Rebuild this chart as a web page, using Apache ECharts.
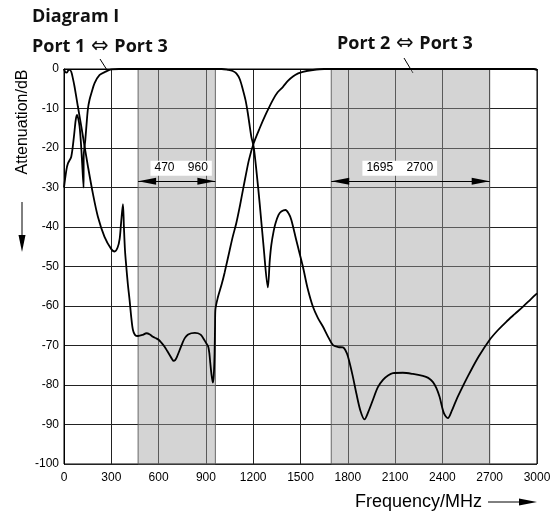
<!DOCTYPE html>
<html><head><meta charset="utf-8">
<script src="https://cdn.jsdelivr.net/npm/echarts@6/dist/echarts.min.js"></script>
<style>html,body{margin:0;padding:0;background:#fff}#c{width:555px;height:518px}</style>
</head><body><div id="c"></div>
<script>
// ---- data ----
const diagramTitle = 'Diagram I';
const seriesNames = ['Port 1 \u21D4 Port 3', 'Port 2 \u21D4 Port 3'];
const xTitle = 'Frequency/MHz';
const yTitle = 'Attenuation/dB';
const xRange = [0, 3000, 300];
const yRange = [-100, 0, 10];
const bands = [[470, 960], [1695, 2700]];
const bandArrowLevel = -28.4;

const port13 = [
  [0,-30],[15,-25.6],[25,-23.9],[46,-22.2],[63,-17.1],[74,-13],[82,-11.6],[90,-12.5],[99,-14.6],[107,-18.5],[114,-23],[124,-30],
  [125,-22],[135,-18],[145,-13],[152,-10],[162,-7.8],[173,-6.2],[194,-3.6],[226,-1.5],[268,-0.6],[300,-0.1],[350,0],
  [1000,0],[1038,-0.2],[1070,-0.5],[1093,-1.1],[1115,-2.6],[1135,-5.3],[1152,-8],[1166,-11.2],[1188,-17.1],[1203,-19.7],
  [1220,-25.6],[1241,-34],[1266,-45],[1293,-55.3],[1305,-48.5],[1315,-44.5],[1330,-41],[1342,-39],[1360,-37],[1378,-36.1],
  [1405,-35.7],[1425,-36.6],[1442,-38.2],[1473,-43.3],[1515,-50],[1545,-55.5],[1579,-60.2],[1610,-63],[1642,-65.2],[1675,-67.8],
  [1706,-69.9],[1740,-70.4],[1769,-70.5],[1785,-71.2],[1801,-72.8],[1830,-77.5],[1854,-82.1],[1880,-86.5],[1906,-88.7],
  [1930,-86.8],[1959,-83.8],[1990,-80.6],[2023,-78.7],[2055,-77.6],[2086,-77],[2149,-76.9],[2213,-77.2],[2276,-77.7],
  [2310,-78.2],[2339,-79.2],[2362,-80.8],[2382,-83],[2410,-87.2],[2435,-88.4],[2460,-86.5],[2488,-83.8],[2530,-80.3],
  [2572,-77],[2630,-72.8],[2699,-68.6],[2750,-66.2],[2805,-64],[2860,-62],[2910,-60.2],[2960,-58.3],[3000,-56.8]
];
const port23 = [
  [0,0],[8,-0.8],[18,-0.9],[28,-0.3],[36,-0.2],[46,-0.7],[56,-2.3],[67,-4.5],[88,-9.5],[110,-14.6],[131,-19.7],[152,-24.7],
  [183,-31.5],[215,-37.4],[257,-42.5],[300,-45.6],[321,-46.2],[340,-45.2],[353,-43],[362,-39],[374,-34.2],[380,-40],
  [387,-46],[395,-50],[405,-54.5],[416,-58.5],[427,-63],[437,-66],[450,-67.3],[469,-67.6],[500,-67.3],[522,-66.9],
  [545,-67.2],[564,-67.8],[585,-68.2],[602,-68.6],[620,-69.4],[638,-70.3],[655,-71.4],[670,-72.4],[685,-73.4],[695,-73.9],
  [705,-73.7],[715,-73],[733,-71.2],[750,-69.5],[765,-68.2],[785,-67.3],[807,-66.9],[830,-66.8],[849,-66.9],[870,-67.4],
  [890,-68.6],[905,-69.6],[915,-70.3],[922,-72],[928,-74.5],[936,-77.5],[944,-79.4],[950,-77.5],[955,-72],[958,-65],
  [960,-61],[976,-57.8],[1000,-54.5],[1019,-51.5],[1050,-46],[1070,-42.5],[1093,-39],[1115,-34.8],[1135,-30.6],[1155,-26.5],
  [1173,-23],[1203,-18.8],[1241,-15],[1283,-11.2],[1325,-7.8],[1355,-5.9],[1389,-4.5],[1420,-3],[1452,-1.9],[1485,-1.1],
  [1515,-0.7],[1579,-0.25],[1650,0],[2980,0],[3000,-0.3]
];

// ---- chart ----
const chart = echarts.init(document.getElementById('c'), null, {renderer: 'canvas'});
const axisFont = {fontFamily: 'Liberation Sans, Arial, sans-serif', fontSize: 12, color: '#000'};
const gridCol = '#222';

const leftArrow = 'path://M0,5 L18,0 L18,10 Z';
const rightArrow = 'path://M18,5 L0,0 L0,10 Z';

function bandMarks() {
  const pts = [], lines = [];
  bands.forEach((b, i) => {
    lines.push([{coord: [b[0], bandArrowLevel]}, {coord: [b[1], bandArrowLevel]}]);
    pts.push({coord: [b[0], bandArrowLevel], symbol: leftArrow, symbolSize: [18, 7], symbolOffset: [9, 0], label: {show: false}});
    pts.push({coord: [b[1], bandArrowLevel], symbol: rightArrow, symbolSize: [18, 7], symbolOffset: [-9, 0], label: {show: false}});
    const cx = i === 0 ? (b[0] + b[1]) / 2 + 28 : (b[0] + b[1]) / 2 - 68;
    pts.push({coord: [cx, -25.1], symbol: 'rect', symbolSize: 0,
      label: {show: true, position: 'inside', formatter: b[0] + '    ' + b[1], color: '#000',
        fontFamily: 'Liberation Sans, Arial, sans-serif', fontSize: 12, backgroundColor: '#fff', padding: [2, 4, 1, 4]}});
  });
  return {pts, lines};
}
const bm = bandMarks();

const titleRich = {
  t: {fontFamily: '"Open Sans", Lato, sans-serif', fontWeight: 'bold', fontSize: 18, fill: '#111', color: '#111'},
  a: {fontFamily: '"DejaVu Sans", sans-serif', fontSize: 21, fill: '#111', color: '#111', padding: [0, 1, 0, 1]}
};
function richTitle(s) {
  const parts = s.split('\u21D4');
  return '{t|' + parts[0] + '}{a|\u21D4}{t|' + parts[1] + '}';
}

chart.setOption({
  animation: false,
  backgroundColor: '#fff',
  grid: {left: 64, right: 18, top: 69, bottom: 54, show: true, borderColor: '#000', borderWidth: 1, backgroundColor: 'transparent'},
  xAxis: {
    type: 'value', min: xRange[0], max: xRange[1], interval: xRange[2],
    axisLine: {show: true, lineStyle: {color: '#000', width: 1}},
    axisTick: {show: false},
    axisLabel: Object.assign({margin: 8, formatter: v => String(v)}, axisFont),
    splitLine: {show: true, lineStyle: {color: gridCol, width: 1}}
  },
  yAxis: {
    type: 'value', min: yRange[0], max: yRange[1], interval: yRange[2],
    axisLine: {show: true, lineStyle: {color: '#000', width: 1}},
    axisTick: {show: false},
    axisLabel: Object.assign({margin: 5, formatter: v => String(v)}, axisFont),
    splitLine: {show: true, lineStyle: {color: gridCol, width: 1}}
  },
  series: [
    {
      name: 'bands', type: 'line', data: [], z: 1, silent: true,
      markArea: {silent: true, itemStyle: {color: 'rgba(160,160,160,0.45)', borderColor: 'rgba(90,90,90,0.9)', borderWidth: 1},
        data: bands.map(b => [{xAxis: b[0], yAxis: yRange[0]}, {xAxis: b[1], yAxis: yRange[1]}])}
    },
    {
      name: seriesNames[0], type: 'line', data: port13, showSymbol: false, smooth: 0.3,
      lineStyle: {color: '#000', width: 1.8}, z: 3
    },
    {
      name: seriesNames[1], type: 'line', data: port23, showSymbol: false, smooth: 0.3,
      lineStyle: {color: '#000', width: 1.8}, z: 3
    },
    {
      name: 'annot', type: 'line', data: [], z: 5, silent: true,
      markLine: {silent: true, symbol: ['none', 'none'], label: {show: false}, lineStyle: {color: '#000', width: 1, type: 'solid'}, data: bm.lines},
      markPoint: {silent: true, itemStyle: {color: '#000'}, data: bm.pts}
    }
  ],
  graphic: [
    {type: 'text', left: 32, top: 8, style: {text: diagramTitle, font: 'bold 18px "Open Sans", Lato, sans-serif', fill: '#111'}},
    {type: 'text', left: 32, top: 36, style: {text: richTitle(seriesNames[0]), rich: titleRich}},
    {type: 'text', left: 337, top: 33, style: {text: richTitle(seriesNames[1]), rich: titleRich}},
    {type: 'line', shape: {x1: 100, y1: 59, x2: 107, y2: 70}, style: {stroke: '#000', lineWidth: 1}},
    {type: 'line', shape: {x1: 404, y1: 58, x2: 413, y2: 73}, style: {stroke: '#000', lineWidth: 1}},
    {type: 'text', x: 23, y: 122, rotation: Math.PI / 2, style: {text: yTitle, font: '16px "Liberation Sans", Arial, sans-serif', fill: '#000', align: 'center', verticalAlign: 'middle'}},
    {type: 'line', shape: {x1: 22, y1: 202, x2: 22, y2: 238}, style: {stroke: '#000', lineWidth: 1}},
    {type: 'polygon', shape: {points: [[18.5, 235], [25.5, 235], [22, 252]]}, style: {fill: '#000'}},
    {type: 'text', x: 482, y: 502, style: {text: xTitle, font: '18px "Liberation Sans", Arial, sans-serif', fill: '#000', align: 'right', verticalAlign: 'middle'}},
    {type: 'line', shape: {x1: 488, y1: 502, x2: 522, y2: 502}, style: {stroke: '#000', lineWidth: 1}},
    {type: 'polygon', shape: {points: [[519, 498.5], [519, 505.5], [537, 502]]}, style: {fill: '#000'}}
  ]
});
</script></body></html>
